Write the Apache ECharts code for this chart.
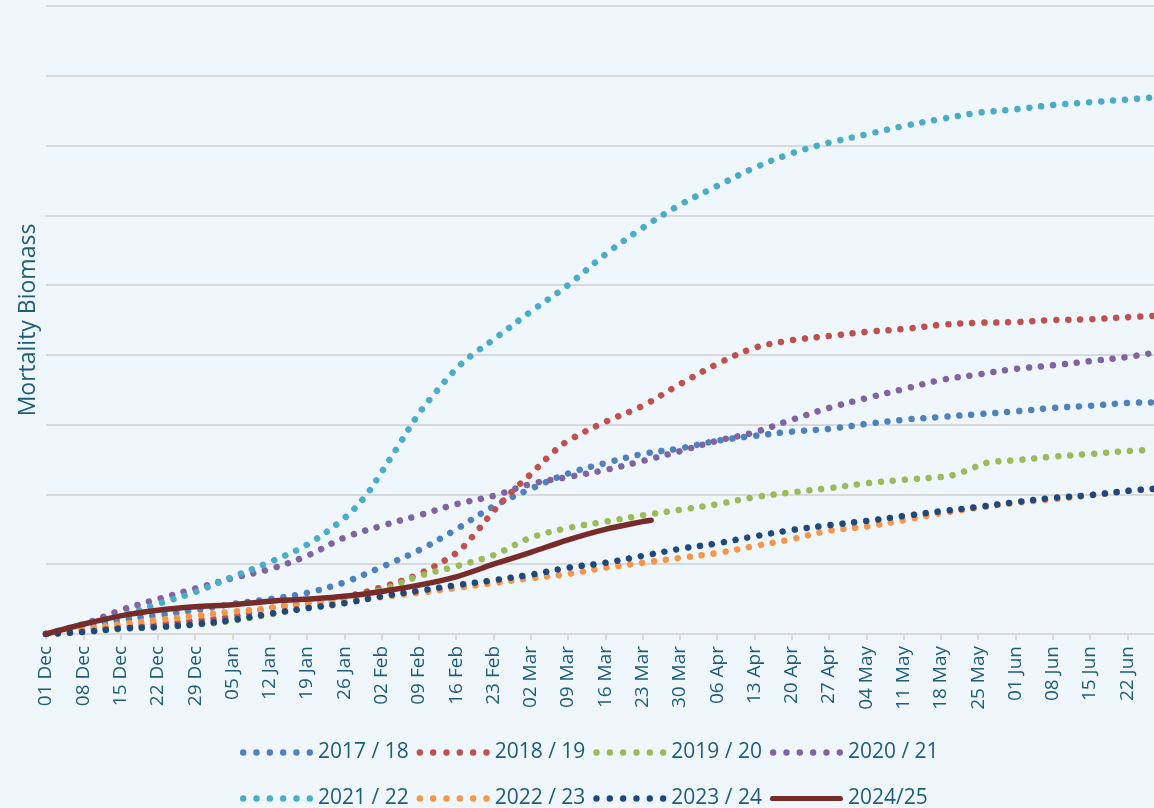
<!DOCTYPE html>
<html>
<head>
<meta charset="utf-8">
<script src="https://cdn.jsdelivr.net/npm/echarts@6/dist/echarts.min.js"></script>
<style>
html,body{margin:0;padding:0;background:#EFF7FD;}
#chart{width:1154px;height:808px;}
</style>
</head>
<body>
<div id="chart"></div>
<script>
// x = days since 01 Dec
const tickLabels = ['01 Dec','08 Dec','15 Dec','22 Dec','29 Dec','05 Jan','12 Jan','19 Jan','26 Jan','02 Feb','09 Feb','16 Feb','23 Feb','02 Mar','09 Mar','16 Mar','23 Mar','30 Mar','06 Apr','13 Apr','20 Apr','27 Apr','04 May','11 May','18 May','25 May','01 Jun','08 Jun','15 Jun','22 Jun'];
const weekDays = [0,7,14,21,28,35,42,49,56,63,70,77,84,91,98,105,112,119,126,133,140,147,154,161,168,175,182,189,196,203,208];

const s1718 = [0,0.11,0.20,0.27,0.34,0.43,0.50,0.59,0.74,0.96,1.20,1.50,1.83,2.08,2.30,2.45,2.58,2.66,2.77,2.84,2.90,2.94,3.01,3.07,3.11,3.15,3.19,3.24,3.27,3.31,3.32];

const days1819 = [0,7,14,21,28,35,42,49,56,63,70,77,80,84,88,91,95,98,105,112,119,126,133,140,147,154,161,168,175,182,189,196,203,208];
const s1819 = [0,0.06,0.10,0.14,0.19,0.25,0.37,0.44,0.53,0.67,0.86,1.16,1.39,1.76,2.08,2.29,2.59,2.77,3.04,3.27,3.58,3.87,4.10,4.21,4.27,4.33,4.37,4.43,4.46,4.47,4.50,4.51,4.54,4.56];

const days1920 = [0,7,14,21,28,35,42,49,56,63,70,77,84,91,98,105,112,119,126,133,140,147,154,161,168,171,174,177,182,189,196,203,208];
const s1920 = [0,0.03,0.07,0.10,0.13,0.19,0.28,0.38,0.50,0.63,0.83,0.97,1.13,1.38,1.52,1.61,1.70,1.78,1.86,1.96,2.03,2.09,2.16,2.21,2.25,2.29,2.38,2.46,2.49,2.54,2.58,2.62,2.64];

const s2021 = [0,0.14,0.34,0.50,0.65,0.80,0.93,1.12,1.38,1.55,1.70,1.86,1.98,2.15,2.25,2.35,2.48,2.62,2.77,2.89,3.07,3.24,3.38,3.51,3.64,3.72,3.80,3.85,3.91,3.97,4.03];

const days2122 = [0,7,14,21,28,35,42,49,56,60,63,66,70,73,77,80,84,91,98,105,112,119,126,133,140,147,154,161,168,175,182,189,196,203,208];
const s2122 = [0,0.14,0.26,0.43,0.60,0.82,1.03,1.28,1.66,1.98,2.32,2.68,3.16,3.45,3.80,4.00,4.22,4.62,5.00,5.44,5.82,6.15,6.42,6.68,6.89,7.04,7.16,7.28,7.38,7.47,7.52,7.58,7.62,7.66,7.69];

const s2223 = [0,0.07,0.14,0.20,0.26,0.32,0.37,0.44,0.47,0.53,0.59,0.66,0.73,0.80,0.86,0.95,1.02,1.09,1.16,1.26,1.36,1.48,1.54,1.63,1.73,1.81,1.88,1.93,1.99,2.05,2.08];

const s2324 = [0,0.03,0.08,0.10,0.14,0.20,0.29,0.37,0.44,0.54,0.62,0.70,0.77,0.85,0.95,1.02,1.12,1.22,1.30,1.40,1.49,1.56,1.62,1.69,1.76,1.82,1.89,1.95,1.99,2.05,2.08];

const days2425 = [0,7,14,21,28,35,42,49,56,63,70,77,84,91,98,105,112,113.6];
const s2425 = [0,0.14,0.26,0.34,0.39,0.42,0.47,0.50,0.54,0.61,0.70,0.82,1.00,1.17,1.35,1.50,1.61,1.63];

const names = ['2017 / 18','2018 / 19','2019 / 20','2020 / 21','2021 / 22','2022 / 23','2023 / 24','2024/25'];
const colors = ['#4F81BD','#C0504D','#9BBB59','#8064A2','#4BACC6','#F79646','#1F497D','#772C2A'];

function zip(d, v){ return d.map((x,i)=>[x, v[i]]); }
const seriesData = [
  zip(weekDays, s1718), zip(days1819, s1819), zip(days1920, s1920), zip(weekDays, s2021),
  zip(days2122, s2122), zip(weekDays, s2223), zip(weekDays, s2324), zip(days2425, s2425)
];

const textColor = '#1F5C7A';
const font = 'Open Sans';

// legend icons: six dots, or a rounded solid bar
let dotPath = 'path://';
for (let k = 0; k < 6; k++) {
  const cx = 3.2 + k * 13.4;
  dotPath += 'M' + (cx - 3.2) + ',3.2 a3.2,3.2 0 1,0 6.4,0 a3.2,3.2 0 1,0 -6.4,0 Z ';
}
const barPath = 'path://M2.6,0 H70.4 A2.6,2.6 0 0,1 70.4,5.2 H2.6 A2.6,2.6 0 0,1 2.6,0 Z';

const series = seriesData.map((d, i) => {
  const solid = i === 7;
  return {
    name: names[i],
    type: 'line',
    data: d,
    symbol: 'none',
    smooth: 0.35,
    color: colors[i],
    z: solid ? 10 : 2 + i,
    lineStyle: solid ? { color: colors[i], width: 5.5, cap: 'round', join: 'round' }
                     : { color: colors[i], width: 6.5, type: [0.01, 12], cap: 'round' }
  };
});

function legendData(list){
  return list.map(n => ({ name: n, icon: n === '2024/25' ? barPath : dotPath }));
}
const legendCommon = {
  left: 235, itemWidth: 73, itemHeight: 6.4, itemGap: 8,
  textStyle: { fontSize: 21, fontFamily: font, color: textColor }
};

const chart = echarts.init(document.getElementById('chart'), null, {renderer: 'canvas'});
chart.setOption({
  backgroundColor: '#EFF7FD',
  animation: false,
  grid: { left: 46, right: 0, top: 6, bottom: 174, containLabel: false },
  xAxis: {
    type: 'value', min: 0, max: 208, interval: 7,
    axisLine: { show: true, lineStyle: { color: '#D9D9D9', width: 2 } },
    axisTick: { show: true, length: 6, lineStyle: { color: '#D9D9D9', width: 2 } },
    splitLine: { show: false },
    axisLabel: {
      rotate: 90, margin: 12, fontSize: 19, fontFamily: font, color: textColor,
      showMaxLabel: false,
      formatter: v => (v % 7 === 0 && tickLabels[v / 7]) ? tickLabels[v / 7] : ''
    }
  },
  yAxis: {
    type: 'value', min: 0, max: 9, interval: 1,
    name: 'Mortality Biomass', nameLocation: 'middle', nameGap: 6,
    nameTextStyle: { fontSize: 23, fontFamily: font, color: textColor },
    axisLine: { show: false }, axisTick: { show: false }, axisLabel: { show: false },
    splitLine: { lineStyle: { color: '#D9D9D9', width: 2 } }
  },
  legend: [
    Object.assign({ data: legendData(names.slice(0, 4)), top: 737 }, legendCommon),
    Object.assign({ data: legendData(names.slice(4)), top: 783 }, legendCommon)
  ],
  series: series
});
</script>
</body>
</html>
